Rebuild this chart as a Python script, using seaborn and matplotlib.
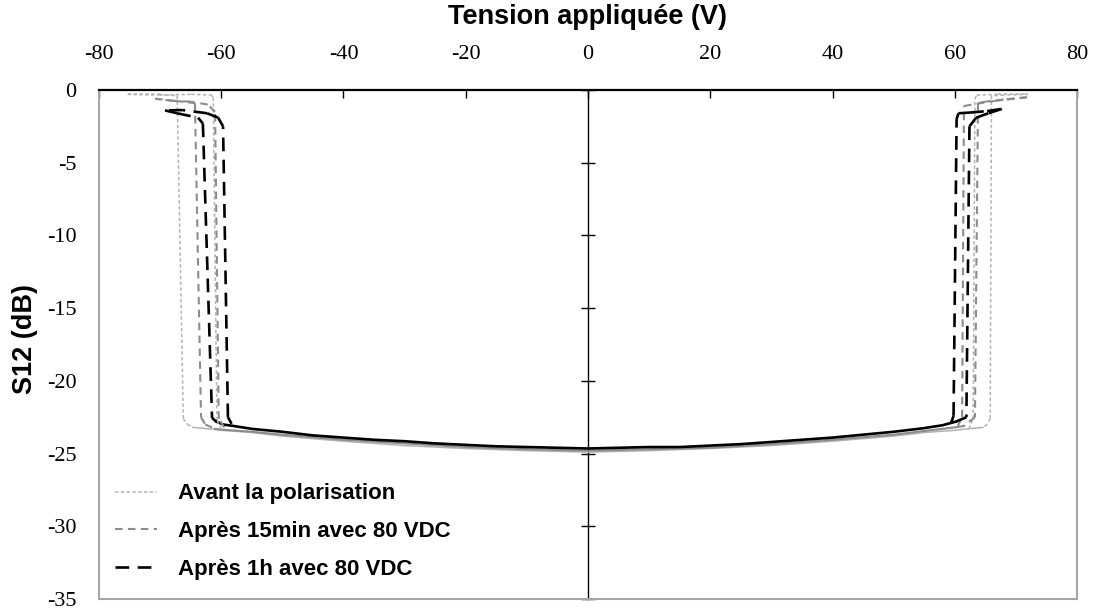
import pandas as pd
import matplotlib.pyplot as plt
import seaborn as sns

SERIES = ["Avant la polarisation", "Après 15min avec 80 VDC", "Après 1h avec 80 VDC"]
COULEURS = {SERIES[0]: "#b3b3b3", SERIES[1]: "#8c8c8c", SERIES[2]: "#000000"}
TRAITS = {SERIES[0]: (2.2, 1.6), SERIES[1]: (3.6, 2.6), SERIES[2]: (5.2, 3.2)}
EPAISSEURS = {SERIES[0]: 1.1, SERIES[1]: 1.5, SERIES[2]: 1.9}

x_ticks = [-80, -60, -40, -20, 0, 20, 40, 60, 80]
y_ticks = [0, -5, -10, -15, -20, -25, -30, -35]

# palier bas (S12 vs tension), un par mesure
v_bas_avant = [-64.6, -62, -60, -55, -50, -40, -30, -20, -10, 0, 10, 20, 30, 40, 50, 55, 60, 62, 64.6]
s_bas_avant = [-23.2, -23.3, -23.4, -23.55, -23.8, -24.15, -24.45, -24.65, -24.8, -24.9,
               -24.8, -24.65, -24.45, -24.15, -23.8, -23.55, -23.4, -23.3, -23.2]
v_bas_15 = [-61.0, -60, -55, -50, -40, -30, -20, -10, 0, 10, 20, 30, 40, 50, 55, 60, 61.5]
s_bas_15 = [-23.3, -23.35, -23.5, -23.7, -24.05, -24.3, -24.55, -24.7, -24.8,
            -24.7, -24.6, -24.35, -24.05, -23.7, -23.45, -23.2, -23.1]
v_bas_1h = [-60.8, -59.7, -58, -55, -50, -45, -40, -35, -30, -25, -20, -15, -10, -5, 0,
            5, 10, 15, 20, 25, 30, 35, 40, 45, 50, 55, 58, 60.2]
s_bas_1h = [-22.8, -23.0, -23.1, -23.3, -23.5, -23.75, -23.9, -24.05, -24.15, -24.3, -24.4,
            -24.5, -24.55, -24.6, -24.65, -24.6, -24.55, -24.55, -24.45, -24.35, -24.2,
            -24.05, -23.9, -23.7, -23.5, -23.25, -23.05, -22.8]

# boucles d'hystérésis (basculement), côté négatif et côté positif
v_gauche_avant = [-60.0, -60.7, -61.3, -61.5, -65, -70, -75.3, -70, -67.2, -66.2, -65.5, -64.6]
s_gauche_avant = [-23.3, -22.7, -0.6, -0.35, -0.3, -0.35, -0.3, -0.3, -0.4, -22.6, -23.0, -23.2]
v_droite_avant = [62.3, 63.0, 63.3, 63.6, 67, 72, 68, 66.0, 65.8, 65.3, 64.6]
s_droite_avant = [-23.3, -22.6, -0.6, -0.35, -0.3, -0.3, -0.35, -0.4, -22.6, -23.0, -23.2]

v_gauche_15 = [-59.5, -60.4, -61.0, -62.2, -65.1, -67.9, -70.8, -67.5, -64.3, -63.3, -62.6, -61.0]
s_gauche_15 = [-23.2, -22.6, -1.5, -1.0, -0.8, -0.75, -0.6, -0.75, -0.9, -22.5, -23.0, -23.3]
v_droite_15 = [60.5, 61.2, 61.5, 63.6, 66.5, 71.8, 68.0, 65.0, 63.8, 63.3, 61.5]
s_droite_15 = [-23.1, -22.5, -1.1, -0.95, -0.75, -0.5, -0.65, -0.8, -0.9, -22.5, -23.1]

v_gauche_1h = [-58.3, -58.9, -59.7, -60.5, -62.3, -66.3, -69.2, -67.2, -63.8, -63.0, -61.5, -60.8]
s_gauche_1h = [-22.95, -22.5, -2.5, -1.9, -1.6, -1.38, -1.4, -1.6, -1.9, -2.3, -22.55, -22.8]
v_droite_1h = [59.4, 59.8, 60.3, 60.6, 62.5, 65.3, 67.7, 65.5, 63.5, 62.4, 61.9, 60.2]
s_droite_1h = [-22.9, -22.4, -2.0, -1.6, -1.55, -1.45, -1.3, -1.6, -1.9, -2.5, -22.5, -22.8]


def segments(nom, v, s, tag):
    # un tronçon par paire de points (le pointillé repart à chaque tronçon)
    rows = []
    for i in range(len(v) - 1):
        for j in (i, i + 1):
            rows.append({"serie": nom, "seg": f"{tag}{i}", "v": v[j], "s": s[j]})
    return rows


bas = pd.DataFrame(
    [{"serie": SERIES[0], "seg": "b0", "v": a, "s": b} for a, b in zip(v_bas_avant, s_bas_avant)]
    + [{"serie": SERIES[1], "seg": "b1", "v": a, "s": b} for a, b in zip(v_bas_15, s_bas_15)]
    + [{"serie": SERIES[2], "seg": "b2", "v": a, "s": b} for a, b in zip(v_bas_1h, s_bas_1h)]
)
boucles = pd.DataFrame(
    segments(SERIES[0], v_gauche_avant, s_gauche_avant, "ga")
    + segments(SERIES[0], v_droite_avant, s_droite_avant, "da")
    + segments(SERIES[1], v_gauche_15, s_gauche_15, "g15")
    + segments(SERIES[1], v_droite_15, s_droite_15, "d15")
    + segments(SERIES[2], v_gauche_1h, s_gauche_1h, "g1h")
    + segments(SERIES[2], v_droite_1h, s_droite_1h, "d1h")
)

plt.rcParams["axes.unicode_minus"] = False
fig = plt.figure(figsize=(10.97, 6.09), dpi=100)
ax = fig.add_axes([0.0902, 0.0164, 0.8916, 0.8358])

sns.lineplot(data=bas, x="v", y="s", hue="serie", size="serie", units="seg",
             estimator=None, sort=False, palette=COULEURS, sizes=EPAISSEURS,
             hue_order=SERIES, legend=False, ax=ax)
sns.lineplot(data=boucles, x="v", y="s", hue="serie", style="serie", size="serie",
             units="seg", estimator=None, sort=False, palette=COULEURS,
             dashes=TRAITS, sizes=EPAISSEURS, hue_order=SERIES, ax=ax)

ax.set_xlim(-80, 80)
ax.set_ylim(-35, 0)
ax.set_xticks(x_ticks)
ax.set_yticks(y_ticks)
ax.xaxis.tick_top()
ax.xaxis.set_label_position("top")
ax.tick_params(axis="x", direction="in", length=6, width=1, color="black", pad=19)
ax.tick_params(axis="y", length=0, pad=16)
for lab in ax.get_xticklabels() + ax.get_yticklabels():
    lab.set_fontfamily("Liberation Serif")
    lab.set_fontsize(16)

for side in ["left", "right", "bottom"]:
    ax.spines[side].set_color("#a6a6a6")
    ax.spines[side].set_linewidth(1.5)
ax.spines["top"].set_color("black")
ax.spines["top"].set_linewidth(1.6)

# axe vertical à V = 0
sec = ax.secondary_yaxis(0.5)
sec.set_yticks(y_ticks)
sec.tick_params(direction="inout", length=10, width=1, color="black",
                labelleft=False, labelright=False)
for sp in sec.spines.values():
    sp.set_color("black")
    sp.set_linewidth(1)

ax.set_xlabel("Tension appliquée (V)", fontfamily="Liberation Sans", fontweight="bold",
              fontsize=19.5, labelpad=15)
ax.set_ylabel("S12 (dB)", fontfamily="Liberation Sans", fontweight="bold", fontsize=19.5)
ax.yaxis.set_label_coords(-0.062, 0.51)

old = ax.get_legend()
handles = old.legend_handles
labels = [t.get_text() for t in old.get_texts()]
old.remove()
ax.legend(handles, labels, loc="upper left", bbox_to_anchor=(0.016, 0.227),
          frameon=False, borderaxespad=0, borderpad=0, handlelength=1.9,
          handletextpad=0.95, labelspacing=0.75,
          prop={"family": "Liberation Sans", "weight": "bold", "size": 16})

fig.savefig("out.png", dpi=100, facecolor="white")
